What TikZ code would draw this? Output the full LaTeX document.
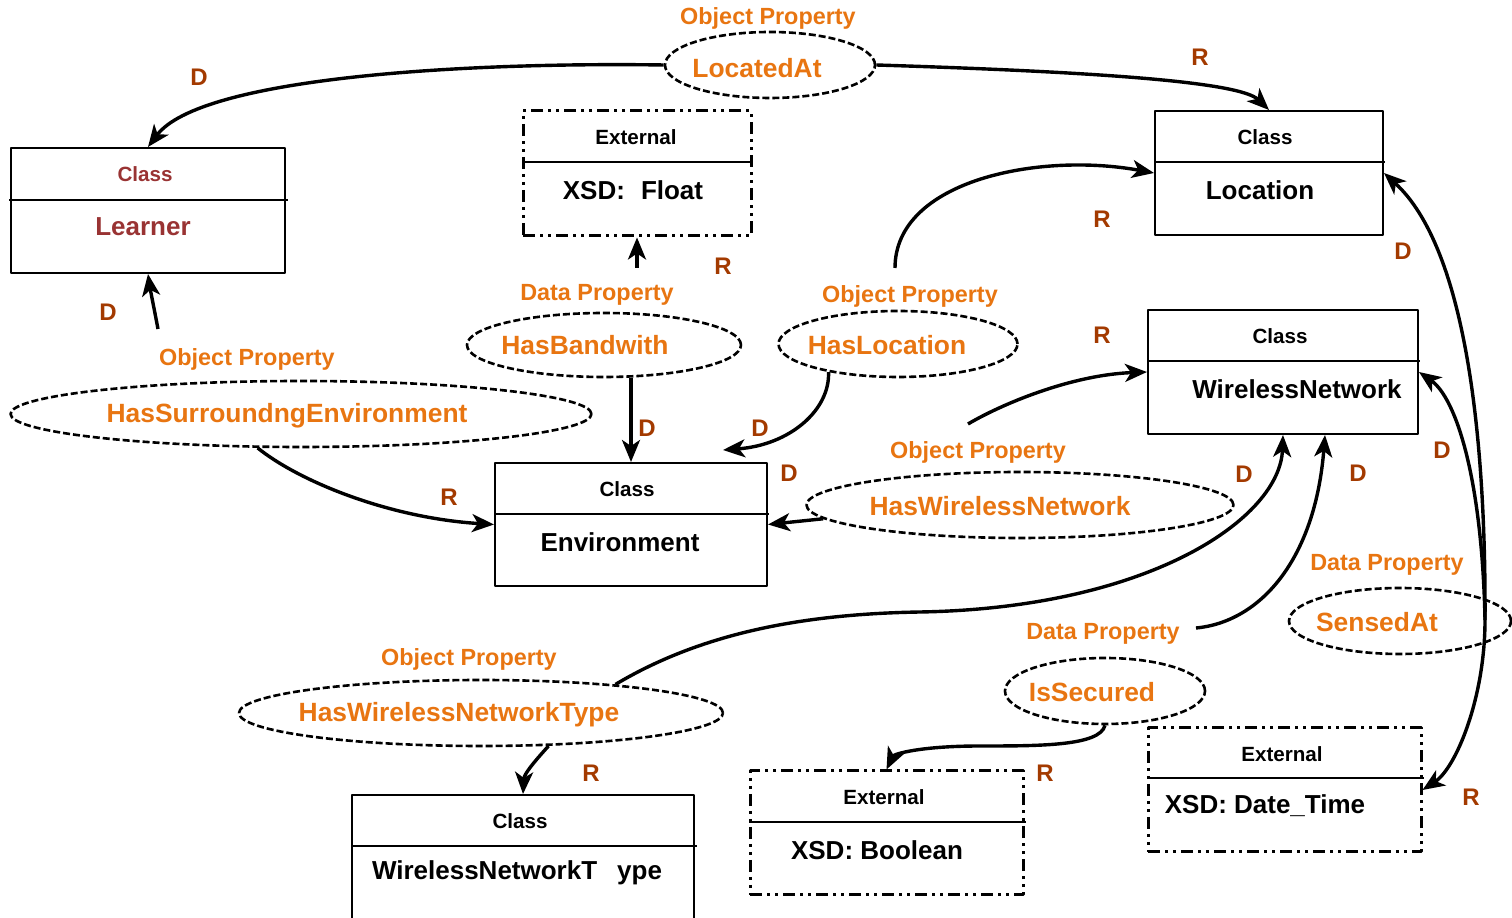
\documentclass[tikz,border=0pt]{standalone}
\usepackage{fontspec}
\setmainfont{Liberation Sans}
\usetikzlibrary{arrows.meta,shapes,calc}

\definecolor{propcol}{RGB}{232,117,17}
\definecolor{drcol}{RGB}{163,58,0}
\definecolor{learncol}{RGB}{153,51,51}

\tikzset{
  classbox/.style={draw, rectangle, line width=1bp, inner sep=0pt},
  extbox/.style={draw, rectangle, line width=1.5bp, inner sep=0pt,
    dash pattern=on 6bp off 2.5bp on 1.5bp off 2.5bp on 1.5bp off 2.5bp},
  divider/.style={line width=1bp},
  propshape/.style={draw, ellipse, line width=1.3bp, inner sep=0pt,
    dash pattern=on 3.5bp off 1.5bp},
  headtext/.style={font=\fontsize{10.3bp}{12bp}\selectfont\bfseries},
  nametext/.style={font=\fontsize{13bp}{15bp}\selectfont\bfseries},
  kindtext/.style={text=propcol, font=\fontsize{11.7bp}{14bp}\selectfont\bfseries},
  propname/.style={text=propcol, font=\fontsize{13.2bp}{15bp}\selectfont\bfseries},
  drlabel/.style={text=drcol, font=\fontsize{12bp}{14bp}\selectfont\bfseries},
}

\begin{document}
\begin{tikzpicture}[>={Stealth[length=11bp,width=9bp,inset=3bp]},line join=bevel,link/.style={->,line width=1.7bp}]

\useasboundingbox (0bp,0bp) rectangle (756bp,459bp);

% Node: Learner
\node[classbox, minimum width=137bp, minimum height=62.5bp] (Learner) at (74bp,353.75bp) {};
\draw[divider] (4.5bp,359bp) -- (144bp,359bp);
\node[headtext, text=learncol] (LearnerHead) at (72.5bp,372bp) {Class};
\node[nametext, text=learncol] (LearnerName) at (71.5bp,345.5bp) {Learner};

% Node: Float
\node[extbox, minimum width=114bp, minimum height=62.5bp] (Float) at (318.5bp,372.25bp) {};
\draw[divider] (261bp,378bp) -- (376.5bp,378bp);
\node[headtext] (FloatHead) at (318bp,390.5bp) {External};
\node[nametext] (FloatName) at (316.5bp,364bp) {XSD:\hspace{8bp}Float};

% Node: Location
\node[classbox, minimum width=114bp, minimum height=62bp] (Location) at (634.5bp,372.5bp) {};
\draw[divider] (577bp,378bp) -- (692.5bp,378bp);
\node[headtext] (LocationHead) at (632.5bp,390.5bp) {Class};
\node[nametext] (LocationName) at (630bp,364bp) {Location};

% Node: WirelessNetwork
\node[classbox, minimum width=135bp, minimum height=62bp] (WirelessNetwork) at (641.5bp,273bp) {};
\draw[divider] (573.5bp,278.5bp) -- (710bp,278.5bp);
\node[headtext] (WirelessNetworkHead) at (640bp,291bp) {Class};
\node[nametext] (WirelessNetworkName) at (648.5bp,264.5bp) {WirelessNetwork};

% Node: Environment
\node[classbox, minimum width=136bp, minimum height=61.5bp] (Environment) at (315.5bp,196.75bp) {};
\draw[divider] (247bp,202bp) -- (384.5bp,202bp);
\node[headtext] (EnvironmentHead) at (313.5bp,214.5bp) {Class};
\node[nametext] (EnvironmentName) at (310bp,188bp) {Environment};

% Node: WirelessNetworkType
\node[classbox, minimum width=171bp, minimum height=66.5bp] (WirelessNetworkType) at (261.5bp,28.25bp) {};
\draw[divider] (175.5bp,36bp) -- (348.5bp,36bp);
\node[headtext] (WirelessNetworkTypeHead) at (260bp,48.5bp) {Class};
\node[nametext] (WirelessNetworkTypeName) at (258.5bp,22.5bp) {WirelessNetworkT\hspace{10bp}ype};

% Node: Boolean
\node[extbox, minimum width=136.5bp, minimum height=62bp] (Boolean) at (443.25bp,42.5bp) {};
\draw[divider] (374.5bp,48bp) -- (513bp,48bp);
\node[headtext] (BooleanHead) at (442bp,60.5bp) {External};
\node[nametext] (BooleanName) at (438.5bp,34bp) {XSD: Boolean};

% Node: DateTime
\node[extbox, minimum width=136.5bp, minimum height=62bp] (DateTime) at (642.25bp,64bp) {};
\draw[divider] (573.5bp,70bp) -- (712bp,70bp);
\node[headtext] (DateTimeHead) at (641bp,82bp) {External};
\node[nametext] (DateTimeName) at (632.5bp,56bp) {XSD: Date\_Time};

% Property nodes
\node[propshape, minimum width=105bp, minimum height=33bp] (LocatedAt) at (385bp,426.5bp) {};
\node[kindtext] (LocatedAtKind) at (384bp,450bp) {Object Property};
\node[propname] (LocatedAtName) at (378.5bp,425bp) {LocatedAt};

\node[propshape, minimum width=137bp, minimum height=32bp] (HasBandwith) at (302bp,286.5bp) {};
\node[kindtext] (HasBandwithKind) at (298.5bp,311.5bp) {Data Property};
\node[propname] (HasBandwithName) at (292.5bp,286.5bp) {HasBandwith};

\node[propshape, minimum width=119.5bp, minimum height=33bp] (HasLocation) at (449bp,287bp) {};
\node[kindtext] (HasLocationKind) at (455bp,311bp) {Object Property};
\node[propname] (HasLocationName) at (443.5bp,286.5bp) {HasLocation};

\node[propshape, minimum width=290.5bp, minimum height=33bp] (HasSurroundingEnvironment) at (150.5bp,252bp) {};
\node[kindtext] (HasSurroundingEnvironmentKind) at (123.5bp,279.5bp) {Object Property};
\node[propname] (HasSurroundingEnvironmentName) at (143.5bp,251bp) {HasSurroundngEnvironment};

\node[propshape, minimum width=213.5bp, minimum height=33bp] (HasWirelessNetwork) at (510bp,206.5bp) {};
\node[kindtext] (HasWirelessNetworkKind) at (489bp,233bp) {Object Property};
\node[propname] (HasWirelessNetworkName) at (500bp,206bp) {HasWirelessNetwork};

\node[propshape, minimum width=111bp, minimum height=33bp] (SensedAt) at (700bp,148.5bp) {};
\node[kindtext] (SensedAtKind) at (693.5bp,176.5bp) {Data Property};
\node[propname] (SensedAtName) at (688.5bp,148bp) {SensedAt};

\node[propshape, minimum width=100bp, minimum height=33bp] (IsSecured) at (552.5bp,113.5bp) {};
\node[kindtext] (IsSecuredKind) at (551.5bp,142bp) {Data Property};
\node[propname] (IsSecuredName) at (546bp,113bp) {IsSecured};

\node[propshape, minimum width=242bp, minimum height=33bp] (HasWirelessNetworkType) at (240.5bp,102.5bp) {};
\node[kindtext] (HasWirelessNetworkTypeKind) at (234.5bp,129.5bp) {Object Property};
\node[propname] (HasWirelessNetworkTypeName) at (229.5bp,101.5bp) {HasWirelessNetworkType};

% Loose ends
\coordinate (HasBandwithTail) at (318.5bp,325bp);
\coordinate (HasLocationTail) at (447.5bp,325bp);
\coordinate (HasSurroundingTail) at (79bp,294.5bp);
\coordinate (HasWirelessNetworkTail) at (484bp,247bp);
\coordinate (IsSecuredTail) at (598bp,145bp);
\coordinate (SensedAtHub) at (742.5bp,149bp);
\coordinate (EnvironmentTop) at (361.5bp,234bp);

% Edge: LocatedAt -> Learner
\draw [link] (LocatedAt.west) .. controls (230bp,428bp) and (100bp,420bp) .. (Learner.north);
% Edge: LocatedAt -> Location
\draw [link] (LocatedAt.east) .. controls (550bp,423bp) and (620bp,418bp) .. (Location.north);
% Edge: HasBandwith -> Float
\draw [link] (HasBandwithTail) -- (Float.south);
% Edge: HasBandwith -> Environment
\draw [link] (Environment.north |- HasBandwith.south) -- (Environment.north);
% Edge: HasLocation -> Environment
\draw [link] (HasLocation.-158) .. controls (415bp,254bp) and (395bp,236.5bp) .. (EnvironmentTop);
% Edge: HasLocation -> Location
\draw [link] (HasLocationTail) .. controls (447.5bp,369bp) and (520bp,383bp) .. (Location.west);
% Edge: HasSurroundingEnvironment -> Learner
\draw [link] (HasSurroundingTail) .. controls (77bp,305bp) and (75bp,315bp) .. (Learner.south);
% Edge: HasSurroundingEnvironment -> Environment
\draw [link] (HasSurroundingEnvironment.-142.5) .. controls (150bp,218bp) and (195bp,200bp) .. (Environment.west);
% Edge: HasWirelessNetwork -> Environment
\draw [link] (HasWirelessNetwork.-176) -- (Environment.east);
% Edge: HasWirelessNetwork -> WirelessNetwork
\draw [link] (HasWirelessNetworkTail) .. controls (500bp,256.5bp) and (535bp,271.5bp) .. (WirelessNetwork.west);
% Edge: HasWirelessNetworkType -> WirelessNetwork
\draw [link] (HasWirelessNetworkType.12) .. controls (350bp,142bp) and (400bp,152bp) .. (460bp,153bp)
  .. controls (575bp,155bp) and (640bp,200bp) .. (WirelessNetwork.south);
% Edge: HasWirelessNetworkType -> WirelessNetworkType
\draw [link] (HasWirelessNetworkType.-26.4) .. controls (267bp,78bp) and (262bp,72bp) .. (WirelessNetworkType.north);
% Edge: IsSecured -> WirelessNetwork
\draw [link] (IsSecuredTail) .. controls (630bp,148bp) and (657.5bp,179bp) .. ($(WirelessNetwork.south)+(21bp,0bp)$);
% Edge: IsSecured -> Boolean
\draw [link] (IsSecured.south) .. controls (550bp,86bp) and (520bp,86bp) .. (490bp,86bp)
  .. controls (460bp,86bp) and (447bp,82bp) .. (Boolean.north);
% Edge: SensedAt -> Location
\draw [link] (SensedAtHub) .. controls (743bp,240bp) and (733bp,335bp) .. (Location.east);
% Edge: SensedAt -> WirelessNetwork
\draw [link] (SensedAtHub) .. controls (741bp,220bp) and (728bp,260bp) .. (WirelessNetwork.east);
% Edge: SensedAt -> DateTime
\draw [link] (SensedAtHub) .. controls (742.5bp,110bp) and (728bp,75bp) .. (DateTime.east);

% Domain and range marks
\node[drlabel] (dLocatedAt) at (99.5bp,420.5bp) {D};
\node[drlabel] (rLocatedAt) at (600bp,430.5bp) {R};
\node[drlabel] (rHasBandwith) at (361.5bp,326bp) {R};
\node[drlabel] (rHasLocation) at (551bp,349.5bp) {R};
\node[drlabel] (dSensedAtLoc) at (701.5bp,333.5bp) {D};
\node[drlabel] (dHasSurrounding) at (54bp,303bp) {D};
\node[drlabel] (rHasWirelessNetwork) at (551bp,291.5bp) {R};
\node[drlabel] (dHasBandwith) at (323.5bp,245bp) {D};
\node[drlabel] (dHasLocation) at (380bp,245bp) {D};
\node[drlabel] (rHasSurrounding) at (224.5bp,210.5bp) {R};
\node[drlabel] (dHasWirelessNetwork) at (394.5bp,222.5bp) {D};
\node[drlabel] (dHasWirelessNetworkType) at (622bp,222bp) {D};
\node[drlabel] (dIsSecured) at (679bp,222.5bp) {D};
\node[drlabel] (dSensedAtWn) at (721bp,234bp) {D};
\node[drlabel] (rHasWirelessNetworkType) at (295.5bp,72.5bp) {R};
\node[drlabel] (rIsSecured) at (522.5bp,72.5bp) {R};
\node[drlabel] (rSensedAt) at (735.5bp,60.5bp) {R};

\end{tikzpicture}
\end{document}
